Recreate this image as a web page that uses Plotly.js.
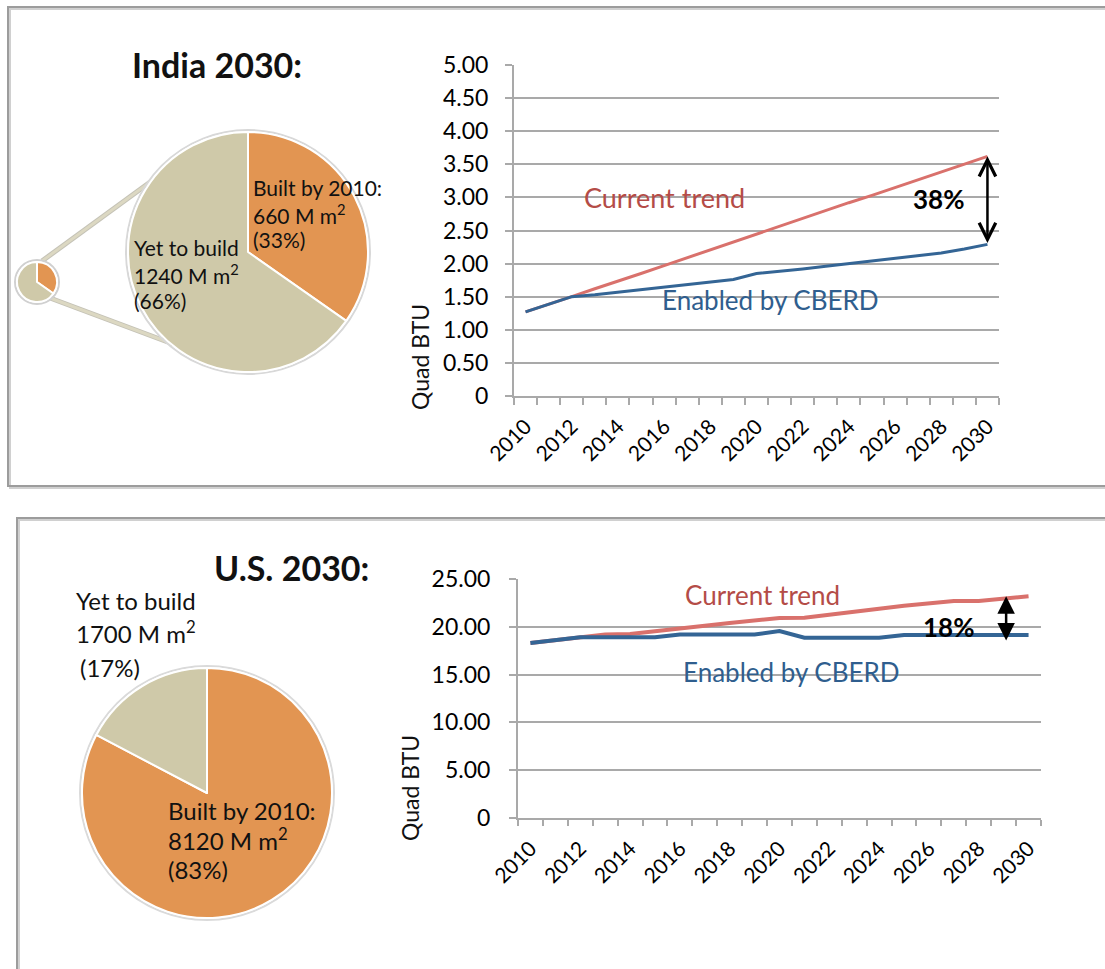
<!DOCTYPE html>
<html>
<head>
<meta charset="utf-8">
<script src="https://cdn.plot.ly/plotly-3.0.1.min.js"></script>
<style>html,body{margin:0;padding:0;background:#fff;}#chart{width:1105px;height:969px;}</style>
</head>
<body>
<div id="chart"></div>
<script>
// ---------- DATA ----------
const years = [2010, 2011, 2012, 2013, 2014, 2015, 2016, 2017, 2018, 2019, 2020,
               2021, 2022, 2023, 2024, 2025, 2026, 2027, 2028, 2029, 2030];
const xTickYears = [2010, 2012, 2014, 2016, 2018, 2020, 2022, 2024, 2026, 2028, 2030];
const xTickText = ["2010", "2012", "2014", "2016", "2018", "2020", "2022", "2024", "2026", "2028", "2030"];

const indiaCurrent = [1.27, 1.38, 1.50, 1.62, 1.73, 1.85, 1.97, 2.09, 2.21, 2.33, 2.45,
                      2.56, 2.68, 2.80, 2.92, 3.03, 3.15, 3.27, 3.39, 3.50, 3.62];
const indiaEnabled = [1.27, 1.38, 1.50, 1.53, 1.57, 1.61, 1.65, 1.68, 1.72, 1.76, 1.85,
                      1.88, 1.92, 1.96, 2.00, 2.04, 2.08, 2.12, 2.16, 2.22, 2.29];
const indiaYTicks = [0, 0.5, 1, 1.5, 2, 2.5, 3, 3.5, 4, 4.5, 5];
const indiaYText = ["0", "0.50", "1.00", "1.50", "2.00", "2.50", "3.00", "3.50", "4.00", "4.50", "5.00"];

const usCurrent = [18.3, 18.6, 18.9, 19.2, 19.25, 19.5, 19.8, 20.1, 20.4, 20.65, 20.93,
                   20.95, 21.3, 21.6, 21.9, 22.2, 22.5, 22.7, 22.7, 22.9, 23.2];
const usEnabled = [18.3, 18.6, 18.9, 18.9, 18.9, 18.9, 19.2, 19.2, 19.2, 19.2, 19.55,
                   18.85, 18.85, 18.85, 18.85, 19.15, 19.15, 19.15, 19.15, 19.15, 19.15];
const usYTicks = [0, 5, 10, 15, 20, 25];
const usYText = ["0", "5.00", "10.00", "15.00", "20.00", "25.00"];

const pieLabels = ["Built by 2010:", "Yet to build"];
const indiaPieArea = [660, 1240];
const indiaPiePct = ["33%", "66%"];
const usPieArea = [8120, 1700];
const usPiePct = ["83%", "17%"];

const seriesNames = ["Current trend", "Enabled by CBERD"];
const indiaGap = "38%";
const usGap = "18%";
const titles = ["India 2030:", "U.S. 2030:"];

// ---------- STYLE ----------
const W = 1105, H = 969;
const px = v => v / W;
const py = v => 1 - v / H;
const FONT = "Lato, 'Open Sans', sans-serif";
const RED = "#d9716c", BLUE = "#346595";
const RED_TXT = "#b44c47", BLUE_TXT = "#2f5e8e";
const GRID = "#a9a9a9";
const ORANGE = "#e29552", BEIGE = "#cfc9a9";

function xAxis(domain, anchor, len) {
  return {
    domain: domain, anchor: anchor, range: [2009.5, 2030.5],
    tickmode: "array", tickvals: xTickYears, ticktext: xTickText,
    ticks: "", tickangle: -45, ticklabelstandoff: 8,
    tickfont: {family: FONT, size: 21, color: "#000"},
    showgrid: false, zeroline: false,
    showline: true, linecolor: GRID, linewidth: 2,
    minor: {tickmode: "linear", tick0: 2009.5, dtick: 1, ticks: "outside",
            ticklen: len, tickwidth: 2, tickcolor: GRID, showgrid: false},
    fixedrange: true
  };
}
function yAxis(domain, anchor, range, tv, tt, fs, standoff) {
  return {
    domain: domain, anchor: anchor, range: range,
    tickmode: "array", tickvals: tv, ticktext: tt,
    ticks: "outside", ticklen: 7, tickwidth: 2, tickcolor: GRID,
    ticklabelstandoff: standoff,
    tickfont: {family: FONT, size: fs, color: "#000"},
    showgrid: true, gridcolor: GRID, gridwidth: 2,
    zeroline: false, showline: true, linecolor: GRID, linewidth: 2,
    fixedrange: true
  };
}

const traces = [
  {type: "pie", values: indiaPieArea, labels: pieLabels, sort: false, direction: "clockwise", rotation: 0,
   marker: {colors: [ORANGE, BEIGE], line: {color: "#ffffff", width: 2}},
   textinfo: "none", hoverinfo: "skip", showlegend: false,
   domain: {x: [px(17), px(57)], y: [py(302), py(262)]}},
  {type: "pie", values: indiaPieArea, labels: pieLabels, sort: false, direction: "clockwise", rotation: 0,
   marker: {colors: [ORANGE, BEIGE], line: {color: "#ffffff", width: 2}},
   textinfo: "none", hoverinfo: "skip", showlegend: false,
   domain: {x: [px(128), px(368)], y: [py(372), py(132)]}},
  {type: "pie", values: usPieArea, labels: pieLabels, sort: false, direction: "clockwise", rotation: 0,
   marker: {colors: [ORANGE, BEIGE], line: {color: "#ffffff", width: 2}},
   textinfo: "none", hoverinfo: "skip", showlegend: false,
   domain: {x: [px(82), px(332)], y: [py(918), py(668)]}},
  {type: "scatter", mode: "lines", x: years, y: indiaCurrent, name: seriesNames[0],
   xaxis: "x", yaxis: "y", line: {color: RED, width: 3}, hoverinfo: "skip"},
  {type: "scatter", mode: "lines", x: years, y: indiaEnabled, name: seriesNames[1],
   xaxis: "x", yaxis: "y", line: {color: BLUE, width: 3}, hoverinfo: "skip"},
  {type: "scatter", mode: "lines", x: years, y: usCurrent, name: seriesNames[0],
   xaxis: "x2", yaxis: "y2", line: {color: RED, width: 4}, hoverinfo: "skip"},
  {type: "scatter", mode: "lines", x: years, y: usEnabled, name: seriesNames[1],
   xaxis: "x2", yaxis: "y2", line: {color: BLUE, width: 4}, hoverinfo: "skip"}
];

function txt(x, y, text, size, opts) {
  return Object.assign({xref: "paper", yref: "paper", x: px(x), y: py(y), text: text,
    showarrow: false, xanchor: "left", yanchor: "middle",
    font: {family: FONT, size: size, color: "#111"}}, opts || {});
}
const last = years.length - 1;
const annotations = [
  txt(217, 65, "<b>" + titles[0] + "</b>", 34, {xanchor: "center"}),
  txt(291, 567, "<b>" + titles[1] + "</b>", 34, {xanchor: "center"}),
  // India pie labels
  txt(251, 188, pieLabels[0], 21),
  txt(251, 214, indiaPieArea[0] + " M m<sup>2</sup>", 21),
  txt(251, 240, "(" + indiaPiePct[0] + ")", 21),
  txt(132, 248, pieLabels[1], 21),
  txt(132, 274, indiaPieArea[1] + " M m<sup>2</sup>", 21),
  txt(132, 301, "(" + indiaPiePct[1] + ")", 21),
  // US pie labels
  txt(74, 600, pieLabels[1], 24),
  txt(74, 632, usPieArea[1] + " M m<sup>2</sup>", 24),
  txt(78, 667, "(" + usPiePct[1] + ")", 24),
  txt(166, 810, pieLabels[0], 24),
  txt(166, 839, usPieArea[0] + " M m<sup>2</sup>", 24),
  txt(166, 869, "(" + usPiePct[0] + ")", 24),
  // Y titles
  txt(420, 357, "Quad BTU", 23, {xanchor: "center", textangle: -90}),
  txt(410, 788, "Quad BTU", 23, {xanchor: "center", textangle: -90}),
  // India chart labels
  {xref: "x", yref: "y", x: 2016, y: 3.0, text: seriesNames[0], showarrow: false,
   font: {family: FONT, size: 27, color: RED_TXT}},
  {xref: "x", yref: "y", x: 2020.6, y: 1.45, text: seriesNames[1], showarrow: false,
   font: {family: FONT, size: 26, color: BLUE_TXT}},
  {xref: "x", yref: "y", x: 2027.9, y: 2.98, text: "<b>" + indiaGap + "</b>", showarrow: false,
   font: {family: FONT, size: 26, color: "#000"}},
  {xref: "x", yref: "y", axref: "x", ayref: "y", x: 2030, y: indiaCurrent[last],
   ax: 2030, ay: indiaEnabled[last], text: "", showarrow: true, arrowside: "end+start",
   arrowhead: 5, startarrowhead: 5, arrowsize: 1.3, startarrowsize: 1.3, arrowwidth: 2.5,
   arrowcolor: "#000", standoff: 0, startstandoff: 0},
  // US chart labels
  {xref: "x2", yref: "y2", x: 2019.3, y: 23.3, text: seriesNames[0], showarrow: false,
   font: {family: FONT, size: 26, color: RED_TXT}},
  {xref: "x2", yref: "y2", x: 2020.5, y: 15.3, text: seriesNames[1], showarrow: false,
   font: {family: FONT, size: 26, color: BLUE_TXT}},
  {xref: "x2", yref: "y2", x: 2026.8, y: 20.0, text: "<b>" + usGap + "</b>", showarrow: false,
   font: {family: FONT, size: 26, color: "#000"}},
  {xref: "x2", yref: "y2", axref: "x2", ayref: "y2", x: 2029.1, y: usCurrent[last],
   ax: 2029.1, ay: 18.4, text: "", showarrow: true, arrowside: "end+start",
   arrowhead: 2, startarrowhead: 2, arrowsize: 1.4, startarrowsize: 1.4, arrowwidth: 2.5,
   arrowcolor: "#000", standoff: 0, startstandoff: 0}
];

const shapes = [
  // panel frames
  {type: "rect", xref: "paper", yref: "paper", x0: px(10), x1: px(1130), y0: py(9), y1: py(488),
   line: {color: "#d0d0d0", width: 2}, layer: "below"},
  {type: "rect", xref: "paper", yref: "paper", x0: px(8), x1: px(1130), y0: py(7), y1: py(486),
   line: {color: "#9c9c9c", width: 2}, layer: "below"},
  {type: "rect", xref: "paper", yref: "paper", x0: px(19), x1: px(1130), y0: py(520), y1: py(1000),
   line: {color: "#d0d0d0", width: 2}, layer: "below"},
  {type: "rect", xref: "paper", yref: "paper", x0: px(17), x1: px(1130), y0: py(518), y1: py(1000),
   line: {color: "#9c9c9c", width: 2}, layer: "below"},
  // zoom connector lines
  {type: "line", xref: "paper", yref: "paper", x0: px(42), y0: py(261), x1: px(190), y1: py(153),
   line: {color: "#c4c2b6", width: 5}, layer: "below"},
  {type: "line", xref: "paper", yref: "paper", x0: px(42), y0: py(261), x1: px(190), y1: py(153),
   line: {color: "#dcd8c2", width: 3}, layer: "below"},
  {type: "line", xref: "paper", yref: "paper", x0: px(50), y0: py(298), x1: px(240), y1: py(369),
   line: {color: "#c4c2b6", width: 5}, layer: "below"},
  {type: "line", xref: "paper", yref: "paper", x0: px(50), y0: py(298), x1: px(240), y1: py(369),
   line: {color: "#dcd8c2", width: 3}, layer: "below"},
  // soft pie outlines
  {type: "circle", xref: "paper", yref: "paper", x0: px(126), x1: px(370), y0: py(374), y1: py(130),
   line: {color: "#d8d8d8", width: 2}, layer: "below"},
  {type: "circle", xref: "paper", yref: "paper", x0: px(15), x1: px(59), y0: py(304), y1: py(260),
   line: {color: "#d0d0d0", width: 2}, layer: "below"},
  {type: "circle", xref: "paper", yref: "paper", x0: px(80), x1: px(334), y0: py(920), y1: py(666),
   line: {color: "#dadada", width: 2}, layer: "below"}
];

const layout = {
  width: W, height: H, margin: {l: 0, r: 0, t: 0, b: 0, pad: 0},
  paper_bgcolor: "#ffffff", plot_bgcolor: "rgba(0,0,0,0)",
  showlegend: false,
  xaxis: xAxis([px(514), px(999)], "y", 7),
  yaxis: yAxis([py(396), py(65)], "x", [0, 5], indiaYTicks, indiaYText, 23, 12),
  xaxis2: xAxis([px(518), px(1041)], "y2", 6),
  yaxis2: yAxis([py(818), py(579)], "x2", [0, 25], usYTicks, usYText, 23, 14),
  annotations: annotations,
  shapes: shapes
};

Plotly.newPlot("chart", traces, layout, {displayModeBar: false, staticPlot: true});
</script>
</body>
</html>
